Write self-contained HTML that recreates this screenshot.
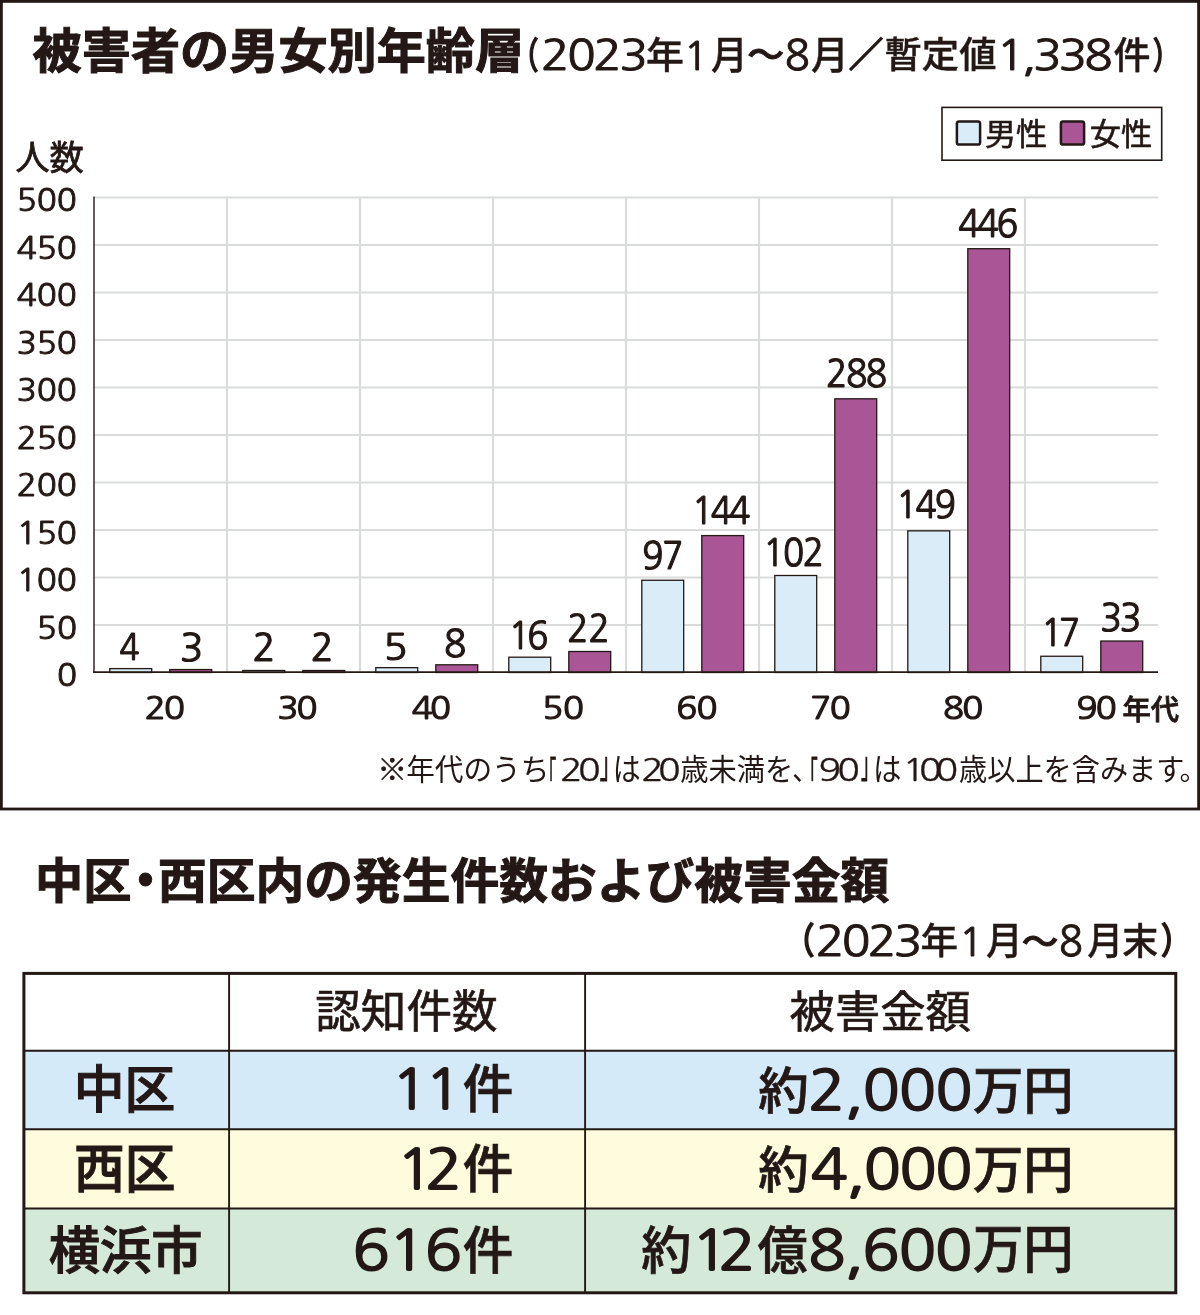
<!DOCTYPE html>
<html lang="ja">
<head>
<meta charset="utf-8">
<title>被害者の男女別年齢層</title>
<style>
html,body{margin:0;padding:0;background:#fff;}
body{width:1200px;height:1315px;overflow:hidden;}
svg{display:block;}
text{font-family:"Liberation Sans", "Noto Sans CJK JP", sans-serif;fill:#231815;stroke-linejoin:miter;stroke-miterlimit:3;}
.n{font-family:"NanumGothic", "Liberation Sans", sans-serif;}
.w4{font-weight:400;}
.w5{font-weight:500;}
.w7{font-weight:700;}
</style>
</head>
<body>
<svg width="1200" height="1315" viewBox="0 0 1200 1315">
<rect width="1200" height="1315" fill="#ffffff"/>
<line x1="94" y1="625.00" x2="1158" y2="625.00" stroke="#dadbdb" stroke-width="2.2"/>
<line x1="94" y1="577.50" x2="1158" y2="577.50" stroke="#dadbdb" stroke-width="2.2"/>
<line x1="94" y1="530.00" x2="1158" y2="530.00" stroke="#dadbdb" stroke-width="2.2"/>
<line x1="94" y1="482.50" x2="1158" y2="482.50" stroke="#dadbdb" stroke-width="2.2"/>
<line x1="94" y1="435.00" x2="1158" y2="435.00" stroke="#dadbdb" stroke-width="2.2"/>
<line x1="94" y1="387.50" x2="1158" y2="387.50" stroke="#dadbdb" stroke-width="2.2"/>
<line x1="94" y1="340.00" x2="1158" y2="340.00" stroke="#dadbdb" stroke-width="2.2"/>
<line x1="94" y1="292.50" x2="1158" y2="292.50" stroke="#dadbdb" stroke-width="2.2"/>
<line x1="94" y1="245.00" x2="1158" y2="245.00" stroke="#dadbdb" stroke-width="2.2"/>
<line x1="94" y1="197.50" x2="1158" y2="197.50" stroke="#dadbdb" stroke-width="2.2"/>
<line x1="227" y1="196.50" x2="227" y2="672.50" stroke="#dadbdb" stroke-width="2.2"/>
<line x1="360" y1="196.50" x2="360" y2="672.50" stroke="#dadbdb" stroke-width="2.2"/>
<line x1="493" y1="196.50" x2="493" y2="672.50" stroke="#dadbdb" stroke-width="2.2"/>
<line x1="626" y1="196.50" x2="626" y2="672.50" stroke="#dadbdb" stroke-width="2.2"/>
<line x1="759" y1="196.50" x2="759" y2="672.50" stroke="#dadbdb" stroke-width="2.2"/>
<line x1="892" y1="196.50" x2="892" y2="672.50" stroke="#dadbdb" stroke-width="2.2"/>
<line x1="1025" y1="196.50" x2="1025" y2="672.50" stroke="#dadbdb" stroke-width="2.2"/>
<rect x="109.80" y="668.60" width="41.90" height="3.90" fill="#d9ecf8" stroke="#231815" stroke-width="1.3"/>
<rect x="169.80" y="669.55" width="41.90" height="2.95" fill="#aa5596" stroke="#231815" stroke-width="1.3"/>
<rect x="242.80" y="670.50" width="41.90" height="2.00" fill="#d9ecf8" stroke="#231815" stroke-width="1.3"/>
<rect x="302.80" y="670.50" width="41.90" height="2.00" fill="#aa5596" stroke="#231815" stroke-width="1.3"/>
<rect x="375.80" y="667.65" width="41.90" height="4.85" fill="#d9ecf8" stroke="#231815" stroke-width="1.3"/>
<rect x="435.80" y="664.80" width="41.90" height="7.70" fill="#aa5596" stroke="#231815" stroke-width="1.3"/>
<rect x="508.80" y="657.20" width="41.90" height="15.30" fill="#d9ecf8" stroke="#231815" stroke-width="1.3"/>
<rect x="568.80" y="651.50" width="41.90" height="21.00" fill="#aa5596" stroke="#231815" stroke-width="1.3"/>
<rect x="641.80" y="580.25" width="41.90" height="92.25" fill="#d9ecf8" stroke="#231815" stroke-width="1.3"/>
<rect x="701.80" y="535.60" width="41.90" height="136.90" fill="#aa5596" stroke="#231815" stroke-width="1.3"/>
<rect x="774.80" y="575.50" width="41.90" height="97.00" fill="#d9ecf8" stroke="#231815" stroke-width="1.3"/>
<rect x="834.80" y="398.80" width="41.90" height="273.70" fill="#aa5596" stroke="#231815" stroke-width="1.3"/>
<rect x="907.80" y="530.85" width="41.90" height="141.65" fill="#d9ecf8" stroke="#231815" stroke-width="1.3"/>
<rect x="967.80" y="248.70" width="41.90" height="423.80" fill="#aa5596" stroke="#231815" stroke-width="1.3"/>
<rect x="1040.80" y="656.25" width="41.90" height="16.25" fill="#d9ecf8" stroke="#231815" stroke-width="1.3"/>
<rect x="1100.80" y="641.05" width="41.90" height="31.45" fill="#aa5596" stroke="#231815" stroke-width="1.3"/>
<line x1="94" y1="196.50" x2="94" y2="673.00" stroke="#231815" stroke-width="1.4"/>
<line x1="93.25" y1="672.10" x2="1158" y2="672.10" stroke="#231815" stroke-width="1.6"/>
<rect x="942" y="107.4" width="219.7" height="52.8" fill="#fff" stroke="#231815" stroke-width="1.6"/>
<rect x="956.9" y="121.4" width="23.2" height="23.2" rx="2.2" fill="#d9ecf8" stroke="#231815" stroke-width="2.5"/>
<rect x="1060.9" y="121.4" width="23.2" height="23.2" rx="2.2" fill="#aa5596" stroke="#231815" stroke-width="2.5"/>
<rect x="1.4" y="1.4" width="1197.2" height="807.6" fill="none" stroke="#231815" stroke-width="2.8"/>
<rect x="23.90" y="973.40" width="1151.90" height="77.40" fill="#ffffff"/>
<rect x="23.90" y="1050.80" width="1151.90" height="78.40" fill="#d4eaf9"/>
<rect x="23.90" y="1129.20" width="1151.90" height="79.30" fill="#fffbdc"/>
<rect x="23.90" y="1208.50" width="1151.90" height="84.30" fill="#d5e9d9"/>
<line x1="23.90" y1="1050.80" x2="1175.80" y2="1050.80" stroke="#231815" stroke-width="1.9"/>
<line x1="23.90" y1="1129.20" x2="1175.80" y2="1129.20" stroke="#231815" stroke-width="1.9"/>
<line x1="23.90" y1="1208.50" x2="1175.80" y2="1208.50" stroke="#231815" stroke-width="1.9"/>
<line x1="229.10" y1="973.40" x2="229.10" y2="1292.80" stroke="#231815" stroke-width="1.9"/>
<line x1="585.10" y1="973.40" x2="585.10" y2="1292.80" stroke="#231815" stroke-width="1.9"/>
<rect x="23.90" y="973.40" width="1151.90" height="319.40" fill="none" stroke="#231815" stroke-width="3"/>
<text><tspan class="w7" x="32.62" y="67.99" font-size="47.33" textLength="491.55" lengthAdjust="spacingAndGlyphs" stroke="#231815" stroke-width="1">被害者の男女別年齢層</tspan><tspan class="w5" x="512.2" y="68.56" font-size="36.11" textLength="26.18" lengthAdjust="spacingAndGlyphs" stroke="#231815" stroke-width="1.6">（</tspan><tspan class="n w4" x="540.99" y="70.3" font-size="40.79" textLength="104.6" lengthAdjust="spacingAndGlyphs" letter-spacing="-1.98" stroke="#231815" stroke-width="1">2023</tspan><tspan class="w5" x="646.03" y="68.58" font-size="37.28" textLength="37.9" lengthAdjust="spacingAndGlyphs" stroke="#231815" stroke-width="0.4">年</tspan><tspan class="n w4" x="683.77" y="69.8" font-size="40.13" textLength="24.32" lengthAdjust="spacingAndGlyphs" stroke="#231815" stroke-width="1">1</tspan><tspan class="w5" x="710.98" y="68.52" font-size="38.13" textLength="36.77" lengthAdjust="spacingAndGlyphs" stroke="#231815" stroke-width="0.4">月</tspan><tspan class="w5" x="747.32" y="67.51" font-size="36.21" textLength="36.96" lengthAdjust="spacingAndGlyphs" stroke="#231815" stroke-width="1">〜</tspan><tspan class="n w4" x="784.79" y="70.3" font-size="40.79" textLength="25.12" lengthAdjust="spacingAndGlyphs" stroke="#231815" stroke-width="1">8</tspan><tspan class="w5" x="810.96" y="68.52" font-size="38.13" textLength="37.77" lengthAdjust="spacingAndGlyphs" stroke="#231815" stroke-width="0.4">月</tspan><tspan class="w5" x="848.94" y="67.46" font-size="34.43" textLength="34" lengthAdjust="spacingAndGlyphs" stroke="#231815" stroke-width="1.8">／</tspan><tspan class="w5" x="884.52" y="68.46" font-size="36.59" textLength="112" lengthAdjust="spacingAndGlyphs" stroke="#231815" stroke-width="0.4">暫定値</tspan><tspan class="n w4" x="996.43" y="70.3" font-size="40.79" textLength="113.34" lengthAdjust="spacingAndGlyphs" letter-spacing="-2.54" stroke="#231815" stroke-width="1">1,338</tspan><tspan class="w5" x="1113.47" y="69.08" font-size="37.3" textLength="37.01" lengthAdjust="spacingAndGlyphs" stroke="#231815" stroke-width="0.4">件</tspan><tspan class="w5" x="1152.94" y="68.56" font-size="36.11" textLength="25.82" lengthAdjust="spacingAndGlyphs" stroke="#231815" stroke-width="1.6">）</tspan></text>
<text><tspan class="w4" x="15.42" y="169.88" font-size="34.3" textLength="68.31" lengthAdjust="spacingAndGlyphs" stroke="#231815" stroke-width="0.8">人数</tspan></text>
<text><tspan class="n w4" x="56.92" y="686.3" font-size="30.92" textLength="20.05" lengthAdjust="spacingAndGlyphs" stroke="#231815" stroke-width="0.9">0</tspan></text>
<text><tspan class="n w4" x="36.86" y="638.8" font-size="30.92" textLength="40.1" lengthAdjust="spacingAndGlyphs" stroke="#231815" stroke-width="0.9">50</tspan></text>
<text><tspan class="n w4" x="16.75" y="591.3" font-size="30.92" textLength="60.15" lengthAdjust="spacingAndGlyphs" stroke="#231815" stroke-width="0.9">100</tspan></text>
<text><tspan class="n w4" x="16.75" y="543.8" font-size="30.92" textLength="60.15" lengthAdjust="spacingAndGlyphs" stroke="#231815" stroke-width="0.9">150</tspan></text>
<text><tspan class="n w4" x="16.75" y="496.3" font-size="30.92" textLength="60.15" lengthAdjust="spacingAndGlyphs" stroke="#231815" stroke-width="0.9">200</tspan></text>
<text><tspan class="n w4" x="16.75" y="448.8" font-size="30.92" textLength="60.15" lengthAdjust="spacingAndGlyphs" stroke="#231815" stroke-width="0.9">250</tspan></text>
<text><tspan class="n w4" x="16.75" y="401.3" font-size="30.92" textLength="60.15" lengthAdjust="spacingAndGlyphs" stroke="#231815" stroke-width="0.9">300</tspan></text>
<text><tspan class="n w4" x="16.75" y="353.8" font-size="30.92" textLength="60.15" lengthAdjust="spacingAndGlyphs" stroke="#231815" stroke-width="0.9">350</tspan></text>
<text><tspan class="n w4" x="16.75" y="306.3" font-size="30.92" textLength="60.15" lengthAdjust="spacingAndGlyphs" stroke="#231815" stroke-width="0.9">400</tspan></text>
<text><tspan class="n w4" x="16.75" y="258.8" font-size="30.92" textLength="60.15" lengthAdjust="spacingAndGlyphs" stroke="#231815" stroke-width="0.9">450</tspan></text>
<text><tspan class="n w4" x="16.75" y="211.3" font-size="30.92" textLength="60.15" lengthAdjust="spacingAndGlyphs" stroke="#231815" stroke-width="0.9">500</tspan></text>
<text><tspan class="w4" x="984.91" y="144.8" font-size="30.74" textLength="62.35" lengthAdjust="spacingAndGlyphs" stroke="#231815" stroke-width="0.6">男性</tspan></text>
<text><tspan class="w4" x="1089.74" y="144.66" font-size="30.58" textLength="62.53" lengthAdjust="spacingAndGlyphs" stroke="#231815" stroke-width="0.6">女性</tspan></text>
<text><tspan class="n w4" x="119.48" y="660.42" font-size="36.45" textLength="19.94" lengthAdjust="spacingAndGlyphs" stroke="#231815" stroke-width="1.2">4</tspan></text>
<text><tspan class="n w4" x="180.14" y="661.41" font-size="37.11" textLength="23.32" lengthAdjust="spacingAndGlyphs" stroke="#231815" stroke-width="1.2">3</tspan></text>
<text><tspan class="n w4" x="252.59" y="661.41" font-size="37.11" textLength="22.86" lengthAdjust="spacingAndGlyphs" stroke="#231815" stroke-width="1.2">2</tspan></text>
<text><tspan class="n w4" x="310.84" y="661.41" font-size="37.11" textLength="22.86" lengthAdjust="spacingAndGlyphs" stroke="#231815" stroke-width="1.2">2</tspan></text>
<text><tspan class="n w4" x="383.62" y="659.92" font-size="36.45" textLength="24.1" lengthAdjust="spacingAndGlyphs" stroke="#231815" stroke-width="1.2">5</tspan></text>
<text><tspan class="n w4" x="443.96" y="656.92" font-size="36.78" textLength="22.32" lengthAdjust="spacingAndGlyphs" stroke="#231815" stroke-width="1.2">8</tspan></text>
<text><tspan class="n w4" x="508.71" y="648.92" font-size="36.78" textLength="36.87" lengthAdjust="spacingAndGlyphs" letter-spacing="-2.88" stroke="#231815" stroke-width="1.2">16</tspan></text>
<text><tspan class="n w4" x="567.25" y="641.92" font-size="36.78" textLength="42.38" lengthAdjust="spacingAndGlyphs" letter-spacing="0.02" stroke="#231815" stroke-width="1.2">22</tspan></text>
<text><tspan class="n w4" x="642.25" y="569.42" font-size="36.78" textLength="39.83" lengthAdjust="spacingAndGlyphs" letter-spacing="-1.32" stroke="#231815" stroke-width="1.2">97</tspan></text>
<text><tspan class="n w4" x="691.96" y="524.42" font-size="36.78" textLength="56.11" lengthAdjust="spacingAndGlyphs" letter-spacing="-2.6" stroke="#231815" stroke-width="1.2">144</tspan></text>
<text><tspan class="n w4" x="763.21" y="565.67" font-size="36.78" textLength="59.28" lengthAdjust="spacingAndGlyphs" letter-spacing="-1.49" stroke="#231815" stroke-width="1.2">102</tspan></text>
<text><tspan class="n w4" x="825.99" y="386.91" font-size="37.11" textLength="59.76" lengthAdjust="spacingAndGlyphs" letter-spacing="-1.52" stroke="#231815" stroke-width="1.2">288</tspan></text>
<text><tspan class="n w4" x="896.21" y="518.17" font-size="36.78" textLength="57.82" lengthAdjust="spacingAndGlyphs" letter-spacing="-2" stroke="#231815" stroke-width="1.2">149</tspan></text>
<text><tspan class="n w4" x="958.13" y="237.11" font-size="37.89" textLength="57.55" lengthAdjust="spacingAndGlyphs" letter-spacing="-2.77" stroke="#231815" stroke-width="1.2">446</tspan></text>
<text><tspan class="n w4" x="1041.21" y="645.67" font-size="36.78" textLength="35.42" lengthAdjust="spacingAndGlyphs" letter-spacing="-3.65" stroke="#231815" stroke-width="1.2">17</tspan></text>
<text><tspan class="n w4" x="1100.21" y="631.41" font-size="37.63" textLength="39.27" lengthAdjust="spacingAndGlyphs" letter-spacing="-2.14" stroke="#231815" stroke-width="1.2">33</tspan></text>
<text><tspan class="n w4" x="144.77" y="718.75" font-size="30.66" textLength="38.57" lengthAdjust="spacingAndGlyphs" letter-spacing="-1.51" stroke="#231815" stroke-width="1.2">20</tspan></text>
<text><tspan class="n w4" x="277.63" y="718.75" font-size="30.66" textLength="37.85" lengthAdjust="spacingAndGlyphs" letter-spacing="-1.83" stroke="#231815" stroke-width="1.2">30</tspan></text>
<text><tspan class="n w4" x="411.67" y="718.75" font-size="30.66" textLength="36.77" lengthAdjust="spacingAndGlyphs" letter-spacing="-2.31" stroke="#231815" stroke-width="1.2">40</tspan></text>
<text><tspan class="n w4" x="542.39" y="718.75" font-size="30.66" textLength="41.34" lengthAdjust="spacingAndGlyphs" letter-spacing="-0.29" stroke="#231815" stroke-width="1.2">50</tspan></text>
<text><tspan class="n w4" x="676.24" y="718.75" font-size="30.66" textLength="40.63" lengthAdjust="spacingAndGlyphs" letter-spacing="-0.6" stroke="#231815" stroke-width="1.2">60</tspan></text>
<text><tspan class="n w4" x="810.17" y="718.75" font-size="30.66" textLength="39.26" lengthAdjust="spacingAndGlyphs" letter-spacing="-1.21" stroke="#231815" stroke-width="1.2">70</tspan></text>
<text><tspan class="n w4" x="943.09" y="718.75" font-size="30.66" textLength="38.44" lengthAdjust="spacingAndGlyphs" letter-spacing="-1.57" stroke="#231815" stroke-width="1.2">80</tspan></text>
<text><tspan class="n w4" x="1076.52" y="718.75" font-size="30.66" textLength="38.57" lengthAdjust="spacingAndGlyphs" letter-spacing="-1.51" stroke="#231815" stroke-width="1.2">90</tspan><tspan class="w5" x="1122.4" y="720.14" font-size="28.52" textLength="56.66" lengthAdjust="spacingAndGlyphs" stroke="#231815" stroke-width="0.8">年代</tspan></text>
<text><tspan class="w4" x="377.3" y="780.39" font-size="29.58" textLength="30" lengthAdjust="spacingAndGlyphs" stroke="#231815" stroke-width="0.4">※</tspan><tspan class="w4" x="406.13" y="780.06" font-size="29.63" textLength="143.17" lengthAdjust="spacingAndGlyphs">年代のうち</tspan><tspan class="w4" x="539.71" y="787.89" font-size="36.7" textLength="16.46" lengthAdjust="spacingAndGlyphs" stroke="#231815" stroke-width="0.8">「</tspan><tspan class="n w4" x="559.9" y="780.69" font-size="31.18" textLength="36.04" lengthAdjust="spacingAndGlyphs" letter-spacing="-3.88" stroke="#231815" stroke-width="0.3">20</tspan><tspan class="w4" x="599.7" y="778.35" font-size="36.08" textLength="20.57" lengthAdjust="spacingAndGlyphs" stroke="#231815" stroke-width="0.8">」</tspan><tspan class="w4" x="612.8" y="779.78" font-size="30.42" textLength="27.9" lengthAdjust="spacingAndGlyphs">は</tspan><tspan class="n w4" x="641.2" y="780.69" font-size="31.18" textLength="33.44" lengthAdjust="spacingAndGlyphs" letter-spacing="-4.96" stroke="#231815" stroke-width="0.3">20</tspan><tspan class="w4" x="680.35" y="779.98" font-size="29.65" textLength="113.02" lengthAdjust="spacingAndGlyphs">歳未満を</tspan><tspan class="w4" x="792.35" y="780.43" font-size="28.57" textLength="26.18" lengthAdjust="spacingAndGlyphs">、</tspan><tspan class="w4" x="800.44" y="787.89" font-size="36.7" textLength="17.25" lengthAdjust="spacingAndGlyphs" stroke="#231815" stroke-width="0.8">「</tspan><tspan class="n w4" x="818.4" y="780.69" font-size="31.18" textLength="37.64" lengthAdjust="spacingAndGlyphs" letter-spacing="-3.21" stroke="#231815" stroke-width="0.3">90</tspan><tspan class="w4" x="861.06" y="778.35" font-size="36.08" textLength="17.25" lengthAdjust="spacingAndGlyphs" stroke="#231815" stroke-width="0.8">」</tspan><tspan class="w4" x="872.99" y="779.78" font-size="30.42" textLength="28.43" lengthAdjust="spacingAndGlyphs">は</tspan><tspan class="n w4" x="902.41" y="780.69" font-size="31.18" textLength="49.49" lengthAdjust="spacingAndGlyphs" letter-spacing="-5.15" stroke="#231815" stroke-width="0.3">100</tspan><tspan class="w4" x="959.05" y="779.99" font-size="29.57" textLength="225.42" lengthAdjust="spacingAndGlyphs">歳以上を含みます</tspan><tspan class="w4" x="1179.59" y="779.94" font-size="27.1" textLength="27.71" lengthAdjust="spacingAndGlyphs">。</tspan></text>
<text><tspan class="w7" x="35.01" y="898.1" font-size="47.62" textLength="96.33" lengthAdjust="spacingAndGlyphs" stroke="#231815" stroke-width="1">中区</tspan><tspan class="w7" x="121.11" y="899.4" font-size="50.78" textLength="49.04" lengthAdjust="spacingAndGlyphs" stroke="#231815" stroke-width="1">・</tspan><tspan class="w7" x="158.11" y="897.98" font-size="47.35" textLength="731.12" lengthAdjust="spacingAndGlyphs" stroke="#231815" stroke-width="1">西区内の発生件数および被害金額</tspan></text>
<text><tspan class="w5" x="785.07" y="953.77" font-size="36.01" textLength="29.46" lengthAdjust="spacingAndGlyphs" stroke="#231815" stroke-width="1.6">（</tspan><tspan class="n w4" x="815.66" y="955.99" font-size="41.18" textLength="104.05" lengthAdjust="spacingAndGlyphs" letter-spacing="-2.34" stroke="#231815" stroke-width="1">2023</tspan><tspan class="w5" x="920.55" y="954.13" font-size="36.74" textLength="37.57" lengthAdjust="spacingAndGlyphs" stroke="#231815" stroke-width="0.4">年</tspan><tspan class="n w4" x="959.08" y="955.5" font-size="40.26" textLength="24.4" lengthAdjust="spacingAndGlyphs" stroke="#231815" stroke-width="1">1</tspan><tspan class="w5" x="985.98" y="954.06" font-size="37.57" textLength="36.77" lengthAdjust="spacingAndGlyphs" stroke="#231815" stroke-width="0.4">月</tspan><tspan class="w5" x="1021.74" y="953.6" font-size="34.48" textLength="36.52" lengthAdjust="spacingAndGlyphs" stroke="#231815" stroke-width="1">〜</tspan><tspan class="n w4" x="1058.91" y="955.99" font-size="41.18" textLength="23.9" lengthAdjust="spacingAndGlyphs" stroke="#231815" stroke-width="1">8</tspan><tspan class="w5" x="1087.3" y="954.24" font-size="37.79" textLength="35.9" lengthAdjust="spacingAndGlyphs" stroke="#231815" stroke-width="0.4">月</tspan><tspan class="w5" x="1122.32" y="954.61" font-size="37.48" textLength="35.85" lengthAdjust="spacingAndGlyphs" stroke="#231815" stroke-width="0.4">末</tspan><tspan class="w5" x="1161.07" y="953.77" font-size="36.01" textLength="29.46" lengthAdjust="spacingAndGlyphs" stroke="#231815" stroke-width="1.6">）</tspan></text>
<text><tspan class="w4" x="315.22" y="1028.19" font-size="45.38" textLength="182.4" lengthAdjust="spacingAndGlyphs" stroke="#231815" stroke-width="0.7">認知件数</tspan></text>
<text><tspan class="w4" x="789.62" y="1028.28" font-size="44.41" textLength="181.17" lengthAdjust="spacingAndGlyphs" stroke="#231815" stroke-width="0.7">被害金額</tspan></text>
<text><tspan class="w5" x="73.77" y="1108.07" font-size="50.66" textLength="101.67" lengthAdjust="spacingAndGlyphs" stroke="#231815" stroke-width="1">中区</tspan></text>
<text><tspan class="w5" x="74.01" y="1188.12" font-size="53.56" textLength="101.53" lengthAdjust="spacingAndGlyphs" stroke="#231815" stroke-width="1">西区</tspan></text>
<text><tspan class="w5" x="48.73" y="1268.69" font-size="51.21" textLength="153.88" lengthAdjust="spacingAndGlyphs" stroke="#231815" stroke-width="1">横浜市</tspan></text>
<text><tspan class="n w4" x="391.61" y="1109.42" font-size="55.13" textLength="66.8" lengthAdjust="spacingAndGlyphs" letter-spacing="-3.05" stroke="#231815" stroke-width="1.8">11</tspan><tspan class="w5" x="462.79" y="1108.18" font-size="51.85" textLength="50.59" lengthAdjust="spacingAndGlyphs" stroke="#231815" stroke-width="0.7">件</tspan></text>
<text><tspan class="n w4" x="396.57" y="1189.22" font-size="55.39" textLength="57.42" lengthAdjust="spacingAndGlyphs" letter-spacing="-7.47" stroke="#231815" stroke-width="1.8">12</tspan><tspan class="w5" x="462.79" y="1188.18" font-size="51.85" textLength="50.59" lengthAdjust="spacingAndGlyphs" stroke="#231815" stroke-width="0.7">件</tspan></text>
<text><tspan class="n w4" x="352.5" y="1270.02" font-size="56.05" textLength="108.3" lengthAdjust="spacingAndGlyphs" letter-spacing="-1.15" stroke="#231815" stroke-width="1.8">616</tspan><tspan class="w5" x="462.79" y="1268.5" font-size="51.63" textLength="50.59" lengthAdjust="spacingAndGlyphs" stroke="#231815" stroke-width="0.7">件</tspan></text>
<text><tspan class="w5" x="758.34" y="1109.11" font-size="50.49" textLength="50.6" lengthAdjust="spacingAndGlyphs" stroke="#231815" stroke-width="0.7">約</tspan><tspan class="n w4" x="808.24" y="1109.62" font-size="55.39" textLength="163.71" lengthAdjust="spacingAndGlyphs" letter-spacing="-0.45" stroke="#231815" stroke-width="1.8">2,000</tspan><tspan class="w5" x="972.9" y="1108.9" font-size="51.6" textLength="100.73" lengthAdjust="spacingAndGlyphs" stroke="#231815" stroke-width="0.7">万円</tspan></text>
<text><tspan class="w5" x="758.34" y="1188.11" font-size="50.49" textLength="50.6" lengthAdjust="spacingAndGlyphs" stroke="#231815" stroke-width="0.7">約</tspan><tspan class="n w4" x="810.82" y="1189.42" font-size="55.66" textLength="160.31" lengthAdjust="spacingAndGlyphs" letter-spacing="-1.21" stroke="#231815" stroke-width="1.8">4,000</tspan><tspan class="w5" x="972.9" y="1188.2" font-size="51.6" textLength="100.73" lengthAdjust="spacingAndGlyphs" stroke="#231815" stroke-width="0.7">万円</tspan></text>
<text><tspan class="w5" x="641.35" y="1268.65" font-size="51.13" textLength="50.06" lengthAdjust="spacingAndGlyphs" stroke="#231815" stroke-width="0.7">約</tspan><tspan class="n w4" x="691.27" y="1270.02" font-size="56.05" textLength="54.28" lengthAdjust="spacingAndGlyphs" letter-spacing="-9.3" stroke="#231815" stroke-width="1.8">12</tspan><tspan class="w5" x="757.61" y="1268.87" font-size="51.51" textLength="50.21" lengthAdjust="spacingAndGlyphs" stroke="#231815" stroke-width="0.7">億</tspan><tspan class="n w4" x="808.32" y="1270.02" font-size="56.05" textLength="163.17" lengthAdjust="spacingAndGlyphs" letter-spacing="-0.9" stroke="#231815" stroke-width="1.8">8,600</tspan><tspan class="w5" x="972.9" y="1268.14" font-size="52.29" textLength="100.73" lengthAdjust="spacingAndGlyphs" stroke="#231815" stroke-width="0.7">万円</tspan></text>
</svg>
</body>
</html>
